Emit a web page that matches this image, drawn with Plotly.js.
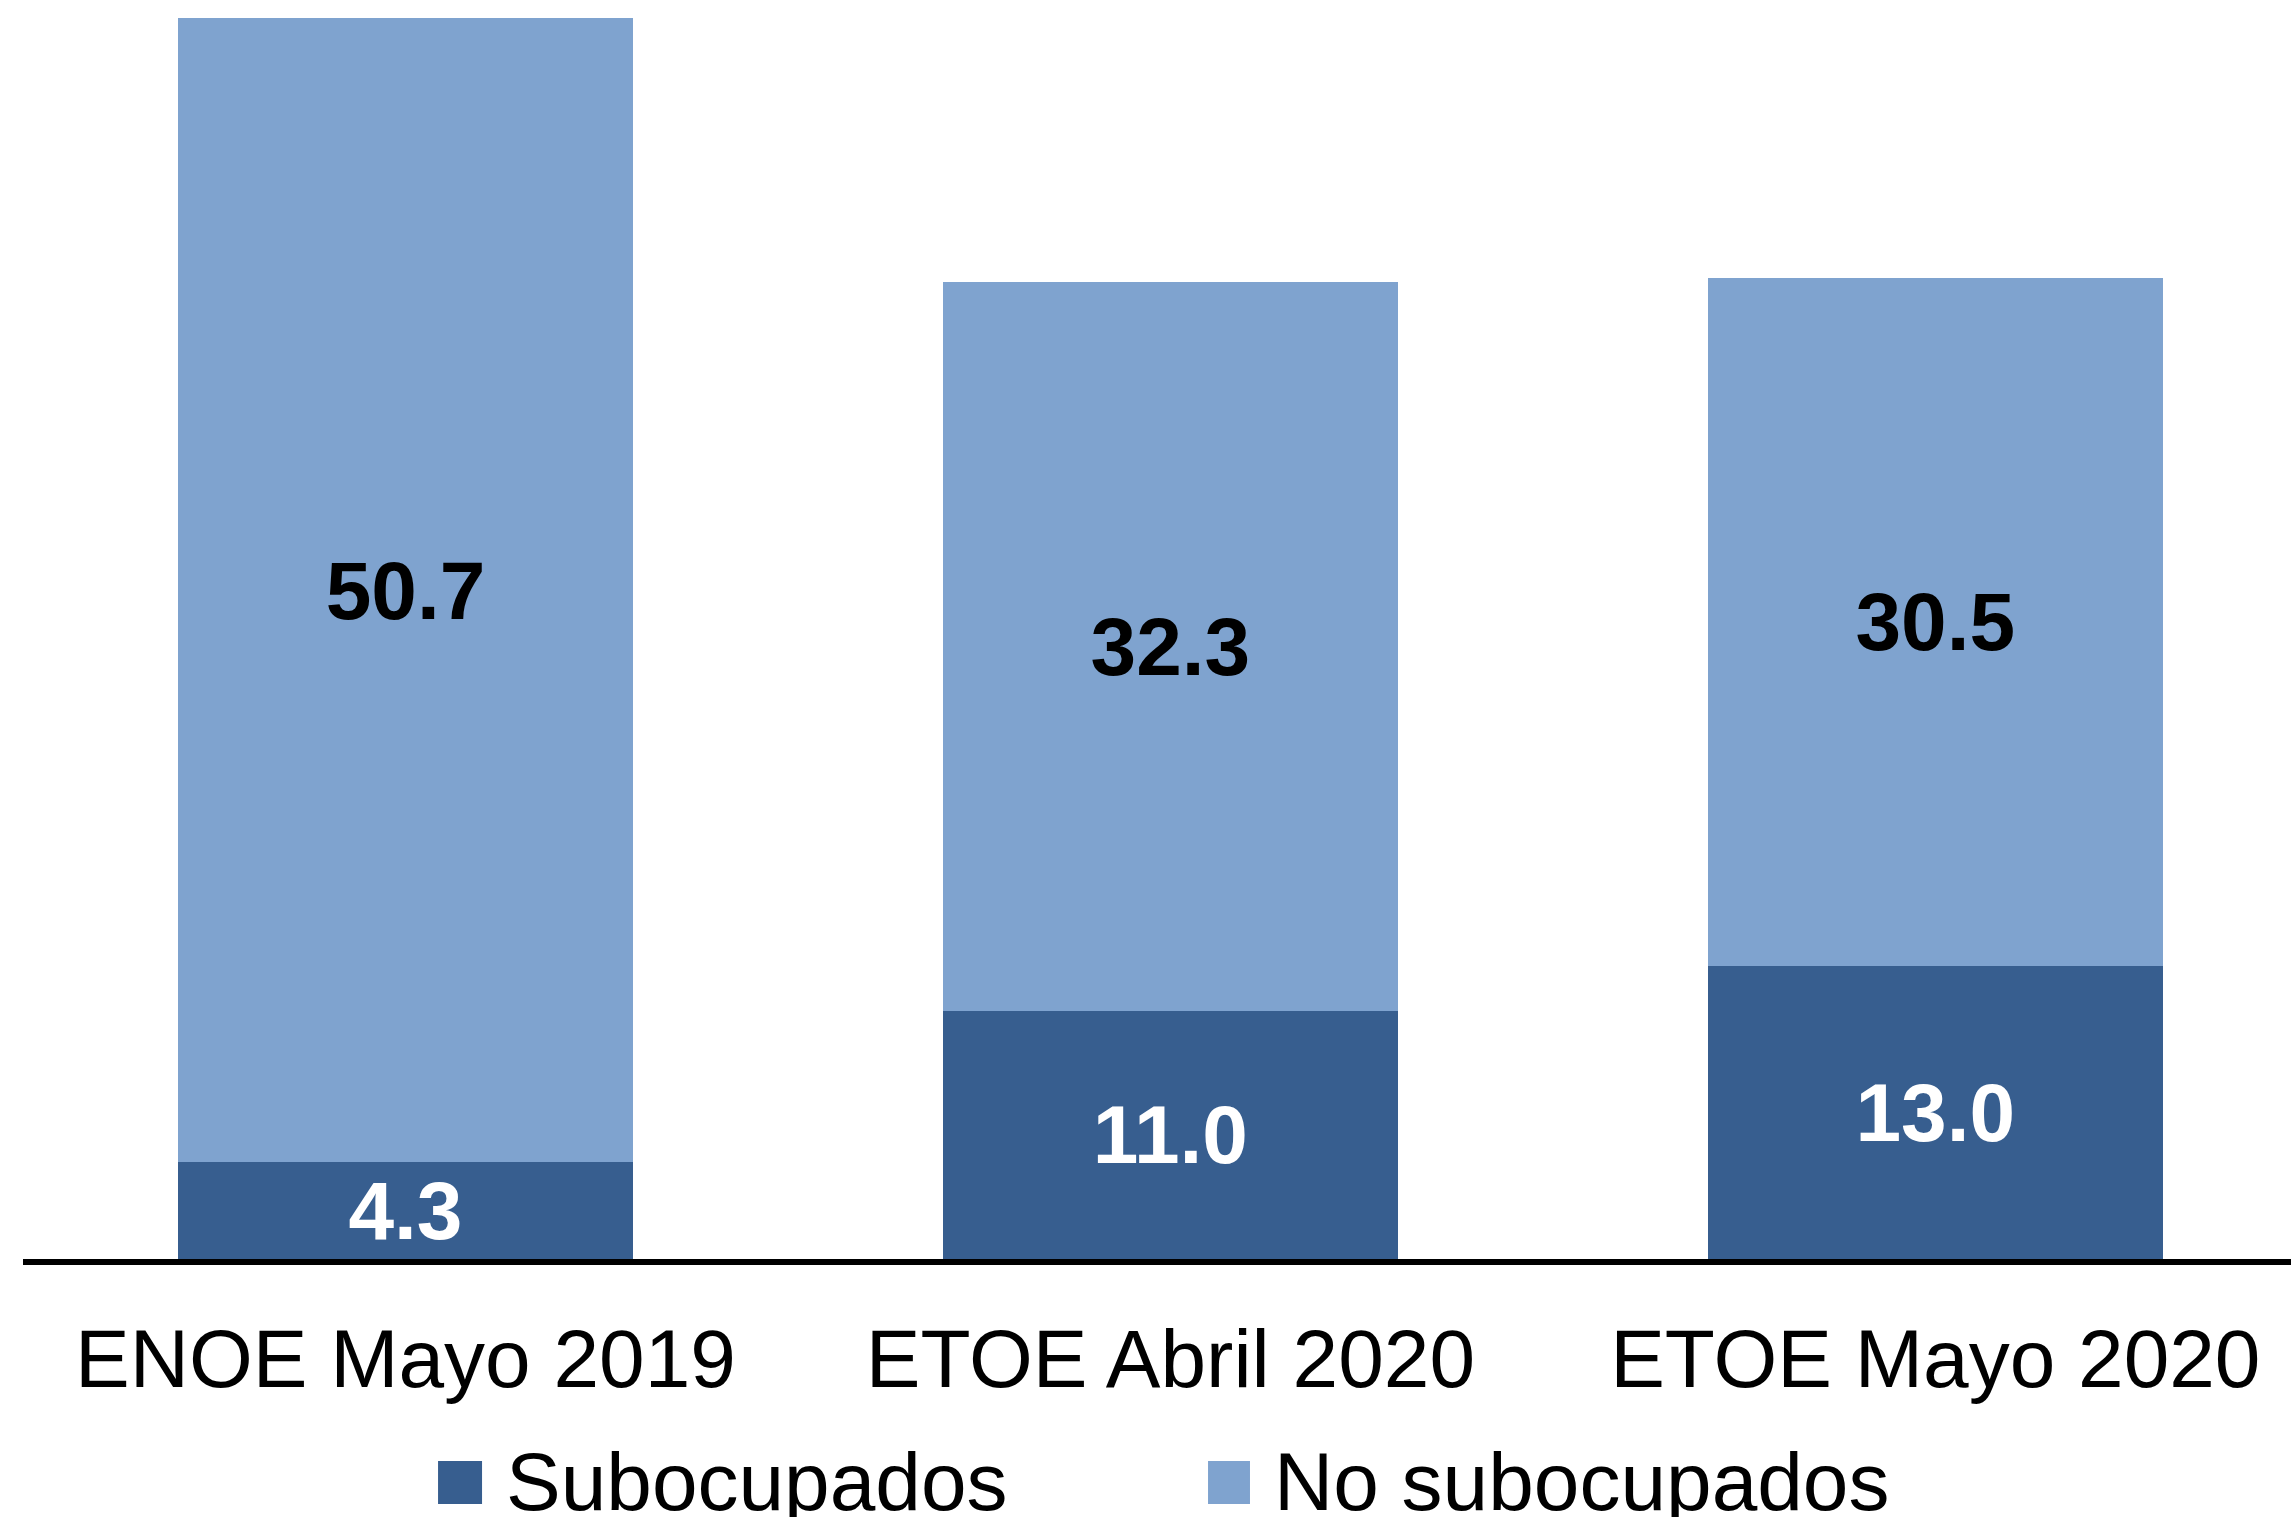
<!DOCTYPE html>
<html>
<head>
<meta charset="utf-8">
<script src="https://cdn.plot.ly/plotly-3.0.1.min.js"></script>
<style>
  html, body { margin: 0; padding: 0; background: #fff; }
  #myDiv { width: 2291px; height: 1517px; }
</style>
</head>
<body>
<div id="myDiv"></div>
<script>
// categories and values
const categories = ['ENOE Mayo 2019', 'ETOE Abril 2020', 'ETOE Mayo 2020'];
const seriesNames = ['Subocupados', 'No subocupados'];
const subocupados = [4.3, 11.0, 13.0];
const noSubocupados = [50.7, 32.3, 30.5];

const darkBlue = 'rgb(55,94,143)';
const lightBlue = 'rgb(127,163,207)';

function fmt(v) {
  return v.toFixed(1);
}

var trace1 = {
  x: categories,
  y: subocupados,
  name: seriesNames[0],
  type: 'bar',
  marker: {color: darkBlue},
  text: subocupados.map(fmt),
  textposition: 'inside',
  insidetextanchor: 'middle',
  textangle: 0,
  constraintext: 'none',
  textfont: {family: 'Liberation Sans, Arial, sans-serif', size: 82, color: '#ffffff', weight: 'bold'},
  hoverinfo: 'none',
  showlegend: false
};

var trace2 = {
  x: categories,
  y: noSubocupados,
  name: seriesNames[1],
  type: 'bar',
  marker: {color: lightBlue},
  text: noSubocupados.map(fmt),
  textposition: 'inside',
  insidetextanchor: 'middle',
  textangle: 0,
  constraintext: 'none',
  textfont: {family: 'Liberation Sans, Arial, sans-serif', size: 82, color: '#000000', weight: 'bold'},
  hoverinfo: 'none',
  showlegend: false
};

var data = [trace1, trace2];

// legend drawn by hand so the swatches can be as large as in the original
var legendSwatches = [
  {x0: 0.183, x1: 0.2024, color: darkBlue},
  {x0: 0.5225, x1: 0.541, color: lightBlue}
];
var legendTextX = [0.2121, 0.5507];

var shapes = legendSwatches.map(function (s) {
  return {
    type: 'rect', xref: 'paper', yref: 'paper',
    x0: s.x0, x1: s.x1, y0: -0.1946, y1: -0.1604,
    fillcolor: s.color, line: {width: 0}
  };
});

var annotations = seriesNames.map(function (name, i) {
  return {
    xref: 'paper', yref: 'paper',
    x: legendTextX[i], y: -0.177,
    xanchor: 'left', yanchor: 'middle',
    text: name, showarrow: false,
    font: {family: 'Liberation Sans, Arial, sans-serif', size: 82, color: '#000'}
  };
});

var layout = {
  width: 2291,
  height: 1517,
  margin: {l: 23, r: 0, t: 0, b: 258},
  barmode: 'stack',
  bargap: 0.405,
  showlegend: false,
  paper_bgcolor: '#fff',
  plot_bgcolor: '#fff',
  font: {family: 'Liberation Sans, Arial, sans-serif', color: '#000'},
  xaxis: {
    type: 'category',
    range: [-0.5, 2.465],
    showline: true,
    linecolor: '#000',
    linewidth: 6,
    ticks: '',
    ticklabelstandoff: 24,
    tickfont: {size: 82, color: '#000'},
    showgrid: false,
    zeroline: false,
    fixedrange: true
  },
  yaxis: {
    range: [0, 55.8],
    visible: false,
    showgrid: false,
    zeroline: false,
    fixedrange: true
  },
  shapes: shapes,
  annotations: annotations
};

Plotly.newPlot('myDiv', data, layout, {staticPlot: true, displayModeBar: false});
</script>
</body>
</html>
